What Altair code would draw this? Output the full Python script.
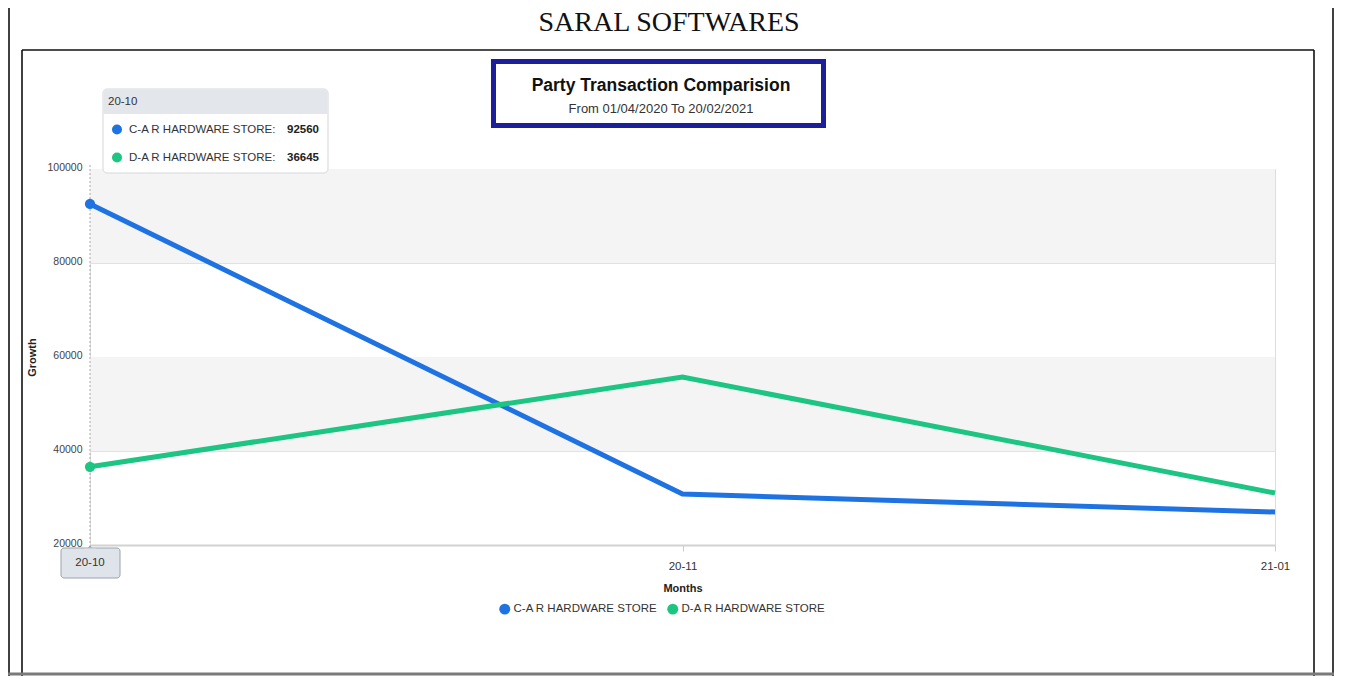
import altair as alt
import pandas as pd

# ---- data ----
months = ["20-10", "20-11", "21-01"]
ca_values = [92560, 30850, 27020]
da_values = [36645, 55740, 31060]
series_names = ["C-A R HARDWARE STORE", "D-A R HARDWARE STORE"]
y_ticks = [20000, 40000, 60000, 80000, 100000]
band_lo = [40000, 80000]
band_hi = [60000, 100000]

page_title = "SARAL SOFTWARES"
chart_title = "Party Transaction Comparision"
chart_subtitle = "From 01/04/2020 To 20/02/2021"

# ---- styles ----
colors = ["#1e72e2", "#1cc582"]
FONT = "Liberation Sans"
W, H = 1185, 376
OX, OY = 90, 169  # page position of plot origin


def px(x):
    return x - OX


def py(y):
    return y - OY


rows = []
for m, v in zip(months, ca_values):
    rows.append({"month": m, "value": v, "series": series_names[0]})
for m, v in zip(months, da_values):
    rows.append({"month": m, "value": v, "series": series_names[1]})
df = pd.DataFrame(rows)

bands_df = pd.DataFrame({"lo": band_lo, "hi": band_hi})
one = pd.DataFrame({"k": [0]})

color_scale = alt.Scale(domain=series_names, range=colors)

x_enc = alt.X(
    "month:O",
    scale=alt.Scale(type="point", domain=months, padding=0),
    axis=alt.Axis(
        title="Months",
        labelAngle=0,
        labelExpr="datum.value == '20-10' ? '' : datum.label",
        labelFontSize=11.5,
        labelColor="#333333",
        labelPadding=9,
        tickColor="#cccccc",
        tickSize=6,
        domainColor="#d2d2d2",
        domainWidth=2,
        titleFontSize=11,
        titleFontWeight="bold",
        titleColor="#222222",
        titlePadding=11,
        grid=False,
    ),
)
y_enc = alt.Y(
    "value:Q",
    scale=alt.Scale(domain=[20000, 100000], nice=False, zero=False),
    axis=alt.Axis(
        title="Growth",
        values=y_ticks,
        format="d",
        labelFontSize=10.5,
        labelColor="#444444",
        labelPadding=8,
        labelOffset=-2,
        ticks=False,
        domain=False,
        grid=True,
        gridColor="#e2e2e2",
        titleFontSize=11,
        titleFontWeight="bold",
        titleColor="#222222",
        titlePadding=9,
    ),
)

bands = alt.Chart(bands_df).mark_rect(fill="#f4f4f4").encode(
    y=alt.Y("lo:Q"), y2="hi:Q", x=alt.value(0), x2=alt.value(W)
)

crosshair = alt.Chart(one).mark_rule(color="#a8a8a8", strokeDash=[2, 2], strokeWidth=1).encode(
    x=alt.value(0), y=alt.value(py(165)), y2=alt.value(H)
)

line_layers = []
for i, s in enumerate(series_names):
    line_layers.append(
        alt.Chart(df).transform_filter(alt.datum.series == s).mark_line(strokeWidth=5, color=colors[i]).encode(
            x=x_enc, y=y_enc
        )
    )

points = alt.Chart(df).transform_filter(alt.datum.month == months[0]).mark_circle(size=105, opacity=1).encode(
    x=alt.X("month:O"),
    y=alt.Y("value:Q"),
    color=alt.Color(
        "series:N",
        scale=color_scale,
        legend=alt.Legend(
            title=None,
            orient="none",
            direction="horizontal",
            legendX=px(499),
            legendY=py(603),
            symbolType="circle",
            symbolSize=120,
            symbolStrokeWidth=0,
            symbolOpacity=1,
            labelFontSize=11.5,
            labelColor="#333333",
            labelFont=FONT,
            labelOffset=3,
            columnPadding=9,
        ),
    ),
)

# ---- frames ----
frame_x = [px(22), px(22), px(1314), px(9), px(1333), px(0)]
frame_x2 = [px(22), px(1314), px(1314), px(9), px(1333), px(1334)]
frame_y = [py(50), py(50), py(50), py(8), py(8), py(674)]
frame_y2 = [py(680), py(50), py(680), py(680), py(680), py(674)]
frame_c = ["#111111", "#111111", "#111111", "#111111", "#111111", "#7a7a7a"]
frame_w = [1.6, 1.6, 1.6, 1.6, 1.6, 3]
frames = []
for i in range(len(frame_x)):
    frames.append(
        alt.Chart(one).mark_rule(color=frame_c[i], strokeWidth=frame_w[i]).encode(
            x=alt.value(frame_x[i]), x2=alt.value(frame_x2[i]),
            y=alt.value(frame_y[i]), y2=alt.value(frame_y2[i])
        )
    )

title_page = alt.Chart(one).mark_text(
    text=page_title, font="Liberation Serif", fontSize=28, color="#111111", align="center", baseline="alphabetic"
).encode(x=alt.value(px(669)), y=alt.value(py(31)))

title_box = alt.Chart(one).mark_rect(fill="white", stroke="#1b1f9a", strokeWidth=5).encode(
    x=alt.value(px(493.5)), x2=alt.value(px(823.5)), y=alt.value(py(61.5)), y2=alt.value(py(125.5))
)
title_text = alt.Chart(one).mark_text(
    text=chart_title, font=FONT, fontSize=17.5, fontWeight="bold", color="#111111", align="center", baseline="middle"
).encode(x=alt.value(px(661)), y=alt.value(py(86)))
subtitle_text = alt.Chart(one).mark_text(
    text=chart_subtitle, font=FONT, fontSize=13, color="#333333", align="center", baseline="middle"
).encode(x=alt.value(px(661)), y=alt.value(py(109)))

# ---- tooltip ----
tip_box = alt.Chart(one).mark_rect(fill="white", stroke="#d4d7db", strokeWidth=1, cornerRadius=4).encode(
    x=alt.value(px(103)), x2=alt.value(px(328)), y=alt.value(py(89)), y2=alt.value(py(173))
)
tip_head = alt.Chart(one).mark_rect(
    fill="#e3e6ea", cornerRadiusTopLeft=4, cornerRadiusTopRight=4
).encode(x=alt.value(px(103.5)), x2=alt.value(px(327.5)), y=alt.value(py(89.5)), y2=alt.value(py(114)))
tip_head_text = alt.Chart(one).mark_text(
    text=months[0], font=FONT, fontSize=11.5, color="#333333", align="left", baseline="middle"
).encode(x=alt.value(px(108)), y=alt.value(py(102)))

tip_layers = []
row_y = [129.5, 157.5]
for i, s in enumerate(series_names):
    base = alt.Chart(df).transform_filter((alt.datum.month == months[0]) & (alt.datum.series == s))
    tip_layers.append(
        base.mark_circle(size=100, opacity=1, color=colors[i]).encode(
            x=alt.value(px(117)), y=alt.value(py(row_y[i]))
        )
    )
    tip_layers.append(
        base.transform_calculate(lbl="datum.series + ':'").mark_text(
            font=FONT, fontSize=11.5, color="#333333", align="left", baseline="middle"
        ).encode(x=alt.value(px(129)), y=alt.value(py(row_y[i])), text="lbl:N")
    )
    tip_layers.append(
        base.mark_text(font=FONT, fontSize=11.5, fontWeight="bold", color="#222222", align="left", baseline="middle").encode(
            x=alt.value(px(287)), y=alt.value(py(row_y[i])), text=alt.Text("value:Q", format="d")
        )
    )

# x label box for 20-10
xbox = alt.Chart(one).mark_rect(fill="#dfe4ea", stroke="#9aa3ad", strokeWidth=1, cornerRadius=3).encode(
    x=alt.value(px(61)), x2=alt.value(px(120)), y=alt.value(py(548)), y2=alt.value(py(578))
)
xarrow = alt.Chart(one).mark_point(shape="triangle-up", filled=True, size=60, fill="#dfe4ea", stroke="#9aa3ad", strokeWidth=1, opacity=1).encode(
    x=alt.value(0), y=alt.value(py(549))
)
xarrow_cover = alt.Chart(one).mark_rect(fill="#dfe4ea").encode(
    x=alt.value(px(84)), x2=alt.value(px(96)), y=alt.value(py(548.6)), y2=alt.value(py(552))
)
xbox_text = alt.Chart(one).mark_text(
    text=months[0], font=FONT, fontSize=11.5, color="#333333", align="center", baseline="middle"
).encode(x=alt.value(0), y=alt.value(py(563)))

chart = alt.layer(
    bands,
    crosshair,
    *line_layers,
    points,
    *frames,
    title_page,
    title_box,
    title_text,
    subtitle_text,
    tip_box,
    tip_head,
    tip_head_text,
    *tip_layers,
    xarrow,
    xbox,
    xarrow_cover,
    xbox_text,
).properties(
    width=W,
    height=H,
    autosize=alt.AutoSizeParams(type="none"),
    padding={"left": OX - 8, "top": OY - 8, "right": 60, "bottom": 668 - (OY - 8) - H},
).configure_view(stroke=None).configure(font=FONT)

chart.save("out.html", embed_options={"renderer": "svg", "actions": False})
